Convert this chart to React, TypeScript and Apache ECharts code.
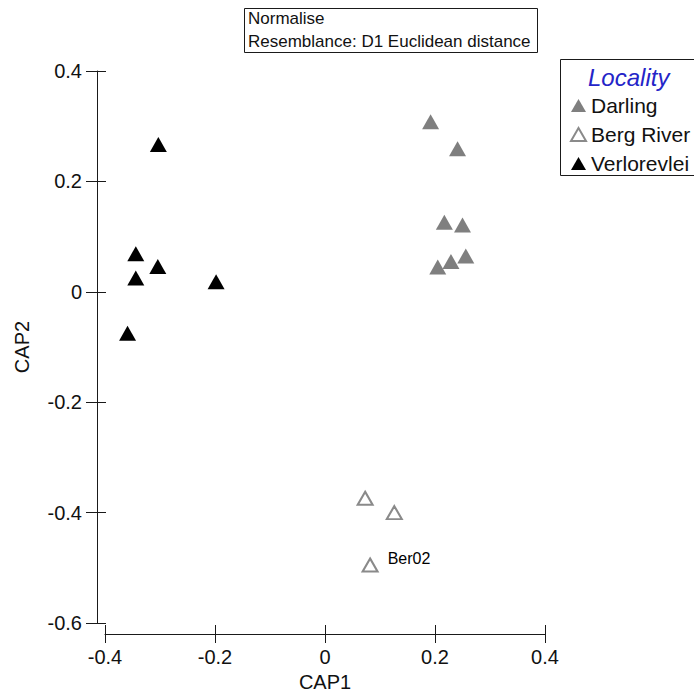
import React, { useEffect, useRef } from "react";
import * as echarts from "echarts";

const FONT = "'Liberation Sans', Arial, sans-serif";

const seriesNames = ["Darling", "Berg River", "Verlorevlei"];

const darlingX = [0.192, 0.241, 0.217, 0.25, 0.205, 0.229, 0.256];
const darlingY = [0.308, 0.259, 0.126, 0.121, 0.045, 0.055, 0.065];

const bergX = [0.073, 0.126, 0.082];
const bergY = [-0.374, -0.4, -0.495];
const bergLabels = ["", "", "Ber02"];

const verloX = [-0.303, -0.344, -0.304, -0.344, -0.198, -0.359];
const verloY = [0.267, 0.069, 0.046, 0.025, 0.018, -0.075];

const xTicks = [-0.4, -0.2, 0, 0.2, 0.4];
const yTicks = [-0.6, -0.4, -0.2, 0, 0.2, 0.4];

const fmt = (v: number) => (Math.abs(v) < 1e-9 ? "0" : String(+v.toFixed(1)));

export default function App() {
  const ref = useRef<HTMLDivElement>(null);

  useEffect(() => {
    if (!ref.current) return;
    const chart = echarts.init(ref.current, undefined, { renderer: "svg" });

    const axisLineStyle = { color: "#1a1a1a", width: 1 };
    const xMin = xTicks[0];
    const xMax = xTicks[xTicks.length - 1];
    const yMin = yTicks[0];
    const yMax = yTicks[yTicks.length - 1];

    const option: any = {
      animation: false,
      backgroundColor: "#ffffff",
      textStyle: { fontFamily: FONT },
      grid: {
        left: 105,
        top: 71,
        width: 440,
        height: 552,
        containLabel: false,
        outerBoundsMode: "none",
      },
      xAxis: [
        {
          type: "value",
          min: xMin,
          max: xMax,
          interval: 0.2,
          position: "bottom",
          offset: 11,
          splitLine: { show: false },
          axisLine: { show: true, onZero: false, lineStyle: axisLineStyle },
          axisTick: { show: true, length: 9, lineStyle: axisLineStyle },
          axisLabel: { fontSize: 20, color: "#111", margin: 13, fontFamily: FONT, formatter: fmt },
          name: "CAP1",
          nameLocation: "middle",
          nameGap: 36,
          nameTextStyle: { fontSize: 20, color: "#111", fontFamily: FONT },
        },
        {
          type: "value",
          min: xMin,
          max: xMax,
          interval: 0.2,
          position: "bottom",
          offset: 11,
          splitLine: { show: false },
          axisLine: { show: false, onZero: false },
          axisTick: { show: true, inside: true, length: 9, lineStyle: axisLineStyle },
          axisLabel: { show: false },
        },
      ],
      yAxis: [
        {
          type: "value",
          min: yMin,
          max: yMax,
          interval: 0.2,
          position: "left",
          offset: 8,
          splitLine: { show: false },
          axisLine: { show: true, onZero: false, lineStyle: axisLineStyle },
          axisTick: { show: true, length: 11, lineStyle: axisLineStyle },
          axisLabel: { fontSize: 20, color: "#111", margin: 15, fontFamily: FONT, formatter: fmt },
          name: "CAP2",
          nameLocation: "middle",
          nameGap: 65,
          nameRotate: 90,
          nameTextStyle: { fontSize: 20, color: "#111", fontFamily: FONT },
        },
        {
          type: "value",
          min: yMin,
          max: yMax,
          interval: 0.2,
          position: "left",
          offset: 8,
          splitLine: { show: false },
          axisLine: { show: false, onZero: false },
          axisTick: { show: true, inside: true, length: 9, lineStyle: axisLineStyle },
          axisLabel: { show: false },
        },
      ],
      legend: {
        orient: "vertical",
        left: 565,
        top: 90,
        itemWidth: 15,
        itemHeight: 13,
        itemGap: 8,
        z: 10,
        textStyle: { fontSize: 21, lineHeight: 21, color: "#111", fontFamily: FONT },
        data: [
          { name: seriesNames[0], icon: "triangle", itemStyle: { color: "#7f7f7f", opacity: 1 } },
          {
            name: seriesNames[1],
            icon: "triangle",
            itemStyle: { color: "#ffffff", borderColor: "#8a8a8a", borderWidth: 2, opacity: 1 },
          },
          { name: seriesNames[2], icon: "triangle", itemStyle: { color: "#000000", opacity: 1 } },
        ],
      },
      graphic: [
        {
          type: "rect",
          z: 5,
          shape: { x: 560.5, y: 59.5, width: 160, height: 116 },
          style: { fill: "#ffffff", stroke: "#1a1a1a", lineWidth: 1 },
        },
        {
          type: "text",
          z: 6,
          x: 588,
          y: 77,
          style: {
            text: "Locality",
            fill: "#2424c8",
            font: `italic 24px ${FONT}`,
            verticalAlign: "middle",
          },
        },
        {
          type: "rect",
          z: 5,
          shape: { x: 244.5, y: 8.5, width: 293, height: 44 },
          style: { fill: "#ffffff", stroke: "#1a1a1a", lineWidth: 1 },
        },
        {
          type: "text",
          z: 6,
          x: 248,
          y: 18,
          style: { text: "Normalise", fill: "#111", font: `17px ${FONT}`, verticalAlign: "middle" },
        },
        {
          type: "text",
          z: 6,
          x: 248,
          y: 41,
          style: {
            text: "Resemblance: D1 Euclidean distance",
            fill: "#111",
            font: `17px ${FONT}`,
            verticalAlign: "middle",
          },
        },
      ],
      series: [
        {
          name: seriesNames[0],
          type: "scatter",
          symbol: "triangle",
          symbolSize: [17, 15],
          itemStyle: { color: "#7f7f7f", opacity: 1 },
          data: darlingX.map((x, i) => [x, darlingY[i]]),
        },
        {
          name: seriesNames[1],
          type: "scatter",
          symbol: "triangle",
          symbolSize: [15, 13],
          itemStyle: { color: "#ffffff", borderColor: "#8a8a8a", borderWidth: 2, opacity: 1 },
          label: {
            show: true,
            position: "right",
            offset: [4, -7],
            fontSize: 16,
            color: "#000",
            fontFamily: FONT,
            formatter: (p: any) => bergLabels[p.dataIndex],
          },
          data: bergX.map((x, i) => [x, bergY[i]]),
        },
        {
          name: seriesNames[2],
          type: "scatter",
          symbol: "triangle",
          symbolSize: [17, 15],
          itemStyle: { color: "#000000", opacity: 1 },
          data: verloX.map((x, i) => [x, verloY[i]]),
        },
      ],
    };

    chart.setOption(option);
    return () => chart.dispose();
  }, []);

  return (
    <div
      ref={ref}
      style={{ position: "fixed", left: 0, top: 0, width: 694, height: 693 }}
    />
  );
}
